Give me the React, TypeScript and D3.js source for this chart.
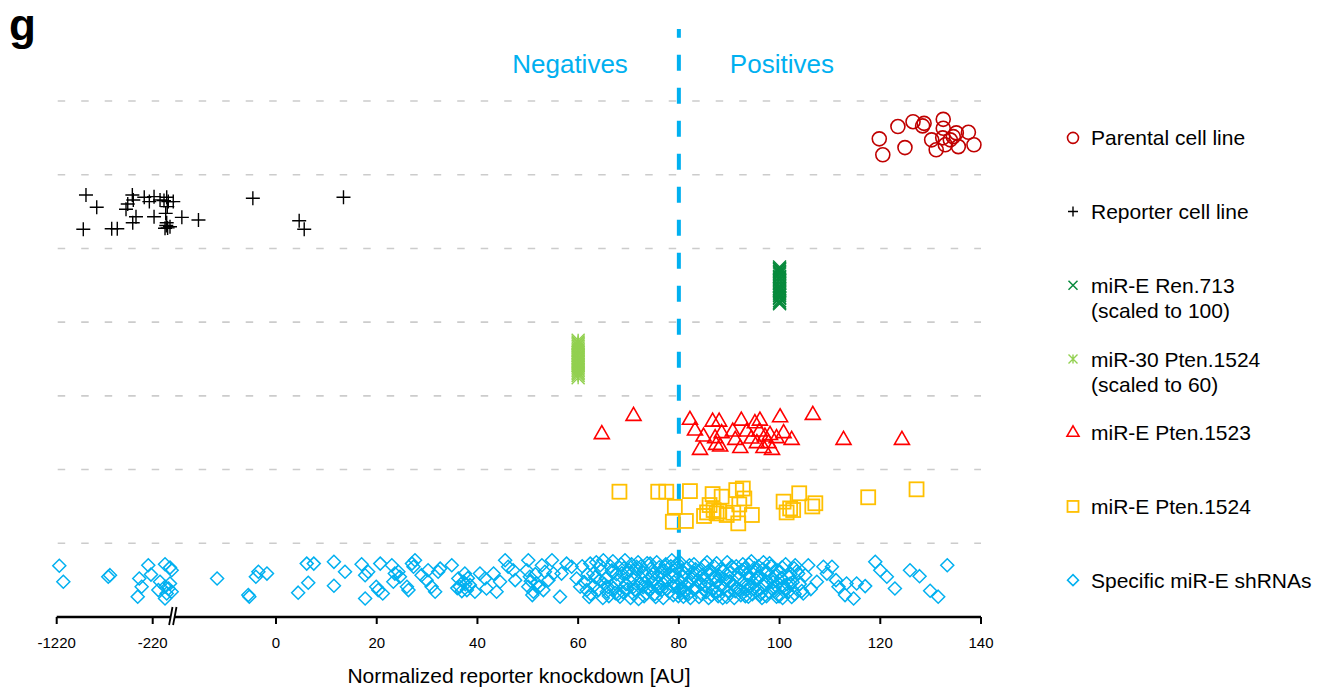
import React from "react";
import * as d3 from "d3";

// Rows of the strip plot, top to bottom
const categories = [
  "Parental cell line",
  "Reporter cell line",
  "miR-E Ren.713",
  "miR-30 Pten.1524",
  "miR-E Pten.1523",
  "miR-E Pten.1524",
  "Specific miR-E shRNAs",
];

const legendLabels: string[][] = [
  ["Parental cell line"],
  ["Reporter cell line"],
  ["miR-E Ren.713", "(scaled to 100)"],
  ["miR-30 Pten.1524", "(scaled to 60)"],
  ["miR-E Pten.1523"],
  ["miR-E Pten.1524"],
  ["Specific miR-E shRNAs"],
];

// Broken x axis: compressed negative range, then linear from -20 to 140
const xDomain = [-1220, -220, -20, 140];
const xTicks = [-1220, -220, 0, 20, 40, 60, 80, 100, 120, 140];
const threshold = 80;

// Each point: [normalized knockdown, vertical jitter in -1..1]
const parental: [number, number][] = [
  [119.8, 0.05], [120.5, 0.85], [123.5, -0.57], [124.9, 0.49], [126.5, -0.81],
  [128.4, -0.6], [128.7, -0.73], [132.5, -0.93], [132.5, -0.48], [130.2, 0.1],
  [131.1, 0.6], [132.9, 0.35], [132.4, 0.0], [134.5, -0.06], [135.1, -0.25],
  [137.5, -0.28], [135.5, 0.44], [138.6, 0.35], [133.9, 0.1],
];

const reporter: [number, number][] = [
  [-915, -0.83], [-803, -0.22], [-943, 0.89], [-647, 0.86], [-589, 0.86],
  [-432, -0.83], [-422, -0.58], [-498, -0.12], [-480, -0.38], [-394, 0.26],
  [-428, 0.56], [-308, -0.72], [-255, -0.5], [-208, -0.75], [-208, 0.26],
  [-155, -0.58], [-96, -0.72], [-82, -0.5], [-91, -0.25], [-105, 0.09],
  [-96, 0.56], [-111, 0.84], [-67, 0.76], [-38, -0.5], [-18.7, 0.29],
  [-15.4, 0.42], [-4.6, -0.67], [4.6, 0.46], [5.6, 0.89], [13.4, -0.72],
  [-100, 0.7], [-88, 0.82], [-120, -0.55],
];

const ren713: [number, number][] = [
  [100, -0.92], [100, -0.84], [100, -0.8], [100, -0.71], [100, -0.63],
  [100, -0.57], [100, -0.45], [100, -0.41], [100, -0.3], [100, -0.24],
  [100, -0.13], [100, -0.09], [100, 0.02], [100, 0.08], [100, 0.15],
  [100, 0.23], [100, 0.28], [100, 0.39], [100, 0.44], [100, 0.52],
  [100, 0.61], [100, 0.66], [100, 0.78], [100, 0.85], [100, 0.93],
];

const mir30: [number, number][] = [
  [60, -0.94], [60, -0.86], [60, -0.79], [60, -0.72], [60, -0.64],
  [60, -0.55], [60, -0.47], [60, -0.4], [60, -0.31], [60, -0.22],
  [60, -0.16], [60, -0.07], [60, 0.01], [60, 0.1], [60, 0.17],
  [60, 0.26], [60, 0.33], [60, 0.41], [60, 0.5], [60, 0.58],
  [60, 0.67], [60, 0.74], [60, 0.83], [60, 0.94],
];

const pten1523: [number, number][] = [
  [64.7, 0.08], [71.0, -0.84], [82.2, -0.64], [83.2, -0.1], [84.9, 0.2],
  [84.2, 0.87], [86.7, -0.55], [88.0, -0.55], [87.2, 0.28], [88.5, 0.03],
  [88.2, 0.7], [87.4, 0.62], [90.7, -0.05], [92.4, -0.6], [91.2, 0.37],
  [92.2, 0.78], [93.5, -0.05], [95.1, -0.47], [96.1, -0.6], [96.0, -0.05],
  [95.5, 0.53], [96.8, 0.78], [98.1, 0.12], [97.8, 0.53], [98.5, 0.87],
  [99.4, 0.28], [100.1, -0.77], [100.8, 0.03], [102.4, 0.37], [106.6, -0.89],
  [112.7, 0.37], [124.3, 0.37], [94.4, 0.3], [97.1, 0.2],
];

const pten1524: [number, number][] = [
  [68.2, -0.74], [75.9, -0.74], [77.5, -0.74], [82.2, -0.77], [79.2, 0.02],
  [78.8, 0.77], [81.4, 0.73], [86.7, -0.62], [88.5, -0.49], [86.1, -0.07],
  [86.9, 0.18], [87.5, 0.35], [85.0, 0.48], [89.5, 0.43], [91.4, -0.82],
  [92.7, -0.9], [93.0, -0.4], [90.8, 0.32], [91.8, 0.85], [94.5, 0.43],
  [100.8, -0.24], [102.1, 0.1], [102.7, 0.18], [103.9, -0.66], [107.1, -0.16],
  [117.6, -0.46], [127.2, -0.86], [85.6, 0.3], [88.0, 0.25], [92.0, -0.1],
  [101.4, 0.3], [106.5, 0.0],
];

const specific: [number, number][] = [
  // compressed range and below zero
  [-1193, -0.72], [-1151, 0.08], [-665, -0.25], [-683, -0.17], [-266, -0.75],
  [-360, -0.08], [-238, -0.28], [-335, 0.33], [-376, 0.83], [-111, -0.8],
  [-67, -0.63], [-52, -0.5], [-155, 0.08], [-111, 0.33], [-67, 0.17],
  [-96, 0.67], [-111, 0.92], [-52, 0.58], [-170, 0.5], [-80, 0.42],
  [-11.7, -0.08], [-5.5, 0.75], [-5.3, 0.83], [-3.5, -0.42], [-4.0, -0.17],
  [-1.8, -0.33],
  // 0 to 60
  [6.1, -0.83], [7.5, -0.83], [6.4, 0.13], [4.4, 0.63], [11.5, -0.92],
  [13.7, -0.42], [11.5, 0.28], [17.0, -0.8], [17.7, -0.25], [17.7, 0.92],
  [18.3, -0.42], [20.7, -0.83], [19.9, 0.33], [21.2, 0.67], [20.3, 0.5],
  [23.0, -0.75], [23.6, -0.33], [24.3, -0.42], [24.6, -0.17], [23.3, 0.08],
  [26.0, 0.33], [26.3, 0.5], [27.0, -0.83], [27.6, -1.0], [27.3, -0.67],
  [28.9, -0.25], [29.9, 0.0], [30.9, 0.33], [31.6, 0.58], [32.2, -0.42],
  [32.6, -0.58], [34.9, -0.75], [36.2, -0.08], [36.5, 0.33], [37.2, 0.08],
  [37.9, 0.5], [38.5, 0.25], [37.5, -0.33], [39.5, 0.58], [40.5, -0.33],
  [41.5, -0.08], [41.8, 0.42], [43.2, -0.33], [43.8, 0.58], [44.5, 0.08],
  [45.5, -1.0], [46.1, -0.67], [47.5, 0.0], [47.1, -0.5], [50.1, -1.0],
  [49.8, -0.5], [50.4, -0.17], [50.1, 0.33], [51.1, 0.58], [51.8, 0.17],
  [52.8, -0.75], [53.4, -0.42], [53.1, 0.5], [54.1, 0.0], [54.8, -1.0],
  [55.1, -0.33], [56.4, 0.83], [56.7, -0.33], [57.7, -0.83], [58.7, -0.67],
  [59.7, -0.08], [36.9, 0.55], [37.6, 0.2], [38.1, -0.1], [36.0, 0.4],
  [50.6, 0.05], [51.5, -0.3], [52.2, 0.35], [50.9, 0.75], [30.2, -0.5],
  // 60 to 81
  [60.4, 0.33], [61.7, 0.5], [62.4, -0.83], [63.0, -0.33], [64.3, 0.0],
  [65.0, -1.0], [65.7, 0.58], [66.7, -0.5], [67.3, 0.17], [68.3, 0.83],
  [69.3, -1.0], [69.7, -0.33], [71.0, 0.33], [71.6, -0.67], [72.6, -0.08],
  [73.6, 0.67], [74.3, -0.83], [74.9, -0.33], [75.9, 0.17], [76.6, 0.5],
  [77.3, -0.67], [78.6, -1.0], [78.9, -0.17], [79.6, 0.33], [80.6, -0.5],
  [80.9, 0.83],
  // dense band around the threshold
  [60.8, -0.7], [61.2, 0.1], [61.9, -0.3], [62.5, 0.7], [63.1, 0.3],
  [63.6, -0.9], [64.0, 0.5], [64.6, -0.5], [65.2, 0.2], [65.5, -0.1],
  [66.1, 0.8], [66.4, -0.7], [67.0, 0.4], [67.6, -0.3], [68.0, 0.0],
  [68.5, -0.8], [68.9, 0.6], [69.5, 0.2], [70.1, -0.5], [70.4, 0.9],
  [70.8, -0.1], [71.3, 0.5], [71.9, -0.9], [72.2, 0.2], [72.8, -0.4],
  [73.1, 0.8], [73.5, -0.2], [73.9, 0.4], [74.5, -0.6], [74.8, 0.1],
  [75.2, 0.7], [75.6, -0.9], [76.0, -0.2], [76.3, 0.3], [76.9, 0.9],
  [77.1, -0.5], [77.7, 0.0], [78.1, 0.6], [78.4, -0.7], [78.8, 0.3],
  [79.2, -0.3], [79.9, 0.8], [80.2, -0.9], [80.5, 0.1], [80.9, -0.2],
  [81.3, 0.6], [81.6, -0.6], [82.0, 0.2], [82.3, 0.9], [82.7, -0.4],
  [83.0, -0.8], [83.4, 0.4], [83.8, 0.0], [84.1, -0.5], [84.5, 0.7],
  [84.9, -0.1], [85.2, 0.3], [85.6, -0.9], [85.9, 0.9], [86.3, -0.3],
  [86.7, 0.5], [87.0, -0.7], [87.4, 0.1], [87.8, 0.8], [88.1, -0.2],
  [88.5, -0.6], [88.9, 0.4], [89.2, 0.0], [89.6, -0.9], [89.9, 0.6],
  [90.3, -0.4], [90.7, 0.2], [91.0, 0.9], [91.4, -0.7], [91.8, -0.1],
  [92.1, 0.5], [92.5, -0.5], [92.8, 0.1], [93.2, 0.8], [93.6, -0.3],
  [93.9, -0.8], [94.3, 0.3], [94.6, 0.7], [95.0, -0.6], [95.4, 0.0],
  [95.7, 0.5], [96.1, -0.2], [96.5, 0.9], [96.8, -0.9], [97.2, 0.2],
  [97.6, -0.4], [97.9, 0.6], [98.3, -0.7], [98.7, 0.1], [99.0, 0.4],
  [99.5, -0.5], [99.9, 0.8], [100.3, -0.1], [100.8, 0.3], [101.2, -0.8],
  [101.7, 0.6], [102.2, -0.3], [102.6, 0.1], [103.0, 0.7],
  [64.9, 0.9], [66.8, -0.4], [69.1, -0.6], [71.0, 0.7], [72.5, -0.7],
  [74.1, 0.5], [75.9, 0.4], [77.4, -0.8], [79.0, 0.1], [80.7, 0.4],
  [82.5, -0.1], [84.3, 0.2], [86.0, -0.5], [87.6, 0.6], [89.4, -0.3],
  [90.9, 0.3], [92.7, -0.8], [94.1, -0.1], [95.8, -0.7], [97.4, 0.8],
  [99.2, -0.2], [100.6, 0.9], [102.9, -0.6], [104.0, 0.2],
  [67.9, 0.7], [70.6, -0.8], [73.3, 0.1], [76.6, -0.4], [79.5, -0.6],
  [81.9, 0.7], [83.6, -0.3], [85.4, 0.6], [87.2, -0.1], [88.7, 0.9],
  [90.5, -0.7], [91.6, 0.4], [93.4, 0.5], [95.2, -0.4], [96.9, 0.3],
  [98.5, -0.1], [100.0, -0.4], [101.5, 0.2],
  [62.2, 0.85], [63.4, -0.15], [64.4, -0.75], [65.9, 0.35], [66.9, -0.95],
  [67.4, 0.65], [68.7, -0.35], [69.8, 0.45], [70.3, 0.05], [71.5, -0.55],
  [72.0, 0.95], [72.9, 0.35], [73.7, -0.85], [74.6, -0.15], [75.4, 0.85],
  [76.1, -0.65], [76.8, 0.15], [77.6, 0.45], [78.2, -0.35], [78.9, 0.75],
  [79.7, -0.85], [80.3, 0.55], [81.1, -0.35], [81.7, 0.15], [82.1, -0.75],
  [82.9, 0.45], [83.3, -0.55], [84.0, 0.85], [84.7, -0.25], [85.1, -0.75],
  [85.8, 0.15], [86.5, 0.75], [86.9, -0.15], [87.5, -0.85], [88.3, 0.25],
  [88.8, -0.45], [89.5, 0.85], [90.1, 0.05], [90.6, -0.65], [91.2, 0.55],
  [91.9, -0.35], [92.3, 0.75], [93.0, -0.55], [93.7, 0.25], [94.4, -0.95],
  [94.9, 0.45], [95.5, -0.15], [96.3, 0.65], [96.7, -0.55], [97.3, 0.05],
  [98.0, -0.85], [98.9, 0.55], [99.7, 0.15], [100.5, -0.65], [101.0, 0.45],
  [101.9, -0.15], [102.4, 0.85], [103.4, -0.45], [104.4, 0.55], [105.1, -0.25],
  // upper tail
  [105.7, -0.75], [108.7, -0.67], [110.4, -0.67], [107.4, 0.08], [109.4, -0.33],
  [104.7, 0.67], [111.7, 0.33], [113.3, 0.17], [113.0, 0.75], [114.7, 0.92],
  [115.3, 0.17], [117.0, 0.3], [119.0, -0.92], [120.0, -0.5], [121.3, -0.17],
  [122.9, 0.42], [125.9, -0.5], [127.8, -0.2], [129.9, 0.53], [131.5, 0.83],
  [133.3, -0.75], [103.1, -0.75], [103.7, -0.33], [102.1, 0.17], [99.4, 0.83],
  [93.8, 0.83], [96.1, 0.75], [111.2, 0.0], [106.2, 0.45],
];

const seriesData = [parental, reporter, ren713, mir30, pten1523, pten1524, specific];

type Shape = "circle" | "plus" | "cross" | "asterisk" | "triangle" | "square" | "diamond";
const shapes: Shape[] = ["circle", "plus", "cross", "asterisk", "triangle", "square", "diamond"];
const colors = ["#c00000", "#000000", "#078a3c", "#92d050", "#ff0000", "#ffc000", "#00b0f0"];

const FONT = "'Liberation Sans', Arial, Helvetica, sans-serif";

function Marker({ shape, x, y, s, color }: { shape: Shape; x: number; y: number; s: number; color: string }) {
  const common = { fill: "none", stroke: color, strokeWidth: 1.6 };
  switch (shape) {
    case "circle":
      return <circle cx={x} cy={y} r={s} {...common} />;
    case "plus":
      return <path d={`M${x - s},${y}H${x + s}M${x},${y - s}V${y + s}`} {...common} strokeWidth={1.4} />;
    case "cross": {
      const a = s;
      return <path d={`M${x - a},${y - a}L${x + a},${y + a}M${x - a},${y + a}L${x + a},${y - a}`} {...common} strokeWidth={1.5} />;
    }
    case "asterisk": {
      const a = s;
      return (
        <path
          d={`M${x - a},${y - a}L${x + a},${y + a}M${x - a},${y + a}L${x + a},${y - a}M${x},${y - s}V${y + s}`}
          {...common}
          strokeWidth={1.4}
        />
      );
    }
    case "triangle": {
      const h = s * 1.732;
      return (
        <path
          d={`M${x},${y - (2 * h) / 3}L${x + s},${y + h / 3}L${x - s},${y + h / 3}Z`}
          {...common}
        />
      );
    }
    case "square":
      return <rect x={x - s} y={y - s} width={2 * s} height={2 * s} {...common} strokeWidth={1.8} />;
    case "diamond":
      return <path d={`M${x},${y - s}L${x + s},${y}L${x},${y + s}L${x - s},${y}Z`} {...common} strokeWidth={1.5} />;
  }
  return null;
}

const plotSize: Record<Shape, number> = {
  circle: 7,
  plus: 7,
  cross: 6.5,
  asterisk: 6.5,
  triangle: 7.5,
  square: 7,
  diamond: 6.5,
};
const legendSize: Record<Shape, number> = {
  circle: 5.5,
  plus: 5,
  cross: 4.5,
  asterisk: 4.5,
  triangle: 6,
  square: 5.5,
  diamond: 5.5,
};

export default function App() {
  const width = 1318;
  const height = 689;
  const axisY = 617;

  const x = d3.scaleLinear().domain(xDomain).range([56.7, 152.7, 175.3, 981]);
  const y = d3.scaleBand<string>().domain(categories).range([101, axisY]);
  const band = y.bandwidth();
  const amp = band * 0.27;
  const [x0, x1] = [x(xDomain[0]), x(xDomain[xDomain.length - 1])];
  const xBreak = 172.5;

  return (
    <svg
      width={width}
      height={height}
      style={{ position: "absolute", left: 0, top: 0, background: "#fff" }}
      fontFamily={FONT}
    >
      {/* panel letter */}
      <text x={9} y={40} fontSize={44} fontWeight="bold" fill="#000">
        g
      </text>

      {/* row separators */}
      {categories.map((c) => (
        <line
          key={c}
          x1={x0}
          x2={x1}
          y1={y(c)!}
          y2={y(c)!}
          stroke="#cccccc"
          strokeWidth={1.6}
          strokeDasharray="7.5,16"
          strokeDashoffset={-1}
        />
      ))}

      {/* threshold line and labels */}
      <line
        x1={x(threshold)}
        x2={x(threshold)}
        y1={29}
        y2={axisY}
        stroke="#00b0f0"
        strokeWidth={4}
        strokeDasharray="16,17"
        strokeDashoffset={7.3}
      />
      <text x={x(threshold) - 51} y={73} fontSize={26} fill="#00b0f0" textAnchor="end">
        Negatives
      </text>
      <text x={x(threshold) + 51} y={73} fontSize={26} fill="#00b0f0" textAnchor="start">
        Positives
      </text>

      {/* points */}
      {seriesData.map((pts, i) => {
        const cy = y(categories[i])! + band / 2;
        return (
          <g key={categories[i]}>
            {pts.map(([v, j], k) => (
              <Marker key={k} shape={shapes[i]} x={x(v)} y={cy + j * amp} s={plotSize[shapes[i]]} color={colors[i]} />
            ))}
          </g>
        );
      })}

      {/* x axis */}
      <line x1={x0} x2={x1} y1={axisY} y2={axisY} stroke="#000" strokeWidth={2.5} />
      {xTicks.map((t) => (
        <g key={t}>
          <line x1={x(t)} x2={x(t)} y1={axisY} y2={axisY + 7} stroke="#000" strokeWidth={2} />
          <text x={x(t)} y={axisY + 31} fontSize={15} textAnchor="middle" fill="#000">
            {t}
          </text>
        </g>
      ))}
      {/* axis break */}
      <path
        d={`M${xBreak - 3.4},${axisY + 8}L${xBreak},${axisY - 10}L${xBreak + 4},${axisY - 10}L${xBreak + 0.6},${axisY + 8}Z`}
        fill="#fff"
      />
      <line x1={xBreak - 3.4} y1={axisY + 8} x2={xBreak} y2={axisY - 10} stroke="#000" strokeWidth={1.8} />
      <line x1={xBreak + 0.6} y1={axisY + 8} x2={xBreak + 4} y2={axisY - 10} stroke="#000" strokeWidth={1.8} />
      <text x={519} y={683} fontSize={21} textAnchor="middle" fill="#000">
        Normalized reporter knockdown [AU]
      </text>

      {/* legend */}
      {categories.map((c, i) => {
        const cy = y(c)! + band / 2;
        return (
          <g key={c}>
            <Marker shape={shapes[i]} x={1073} y={cy} s={legendSize[shapes[i]]} color={colors[i]} />
            {legendLabels[i].map((line, li) => (
              <text key={li} x={1091} y={cy + 7.5 + li * 25.5} fontSize={21} fill="#000">
                {line}
              </text>
            ))}
          </g>
        );
      })}
    </svg>
  );
}
